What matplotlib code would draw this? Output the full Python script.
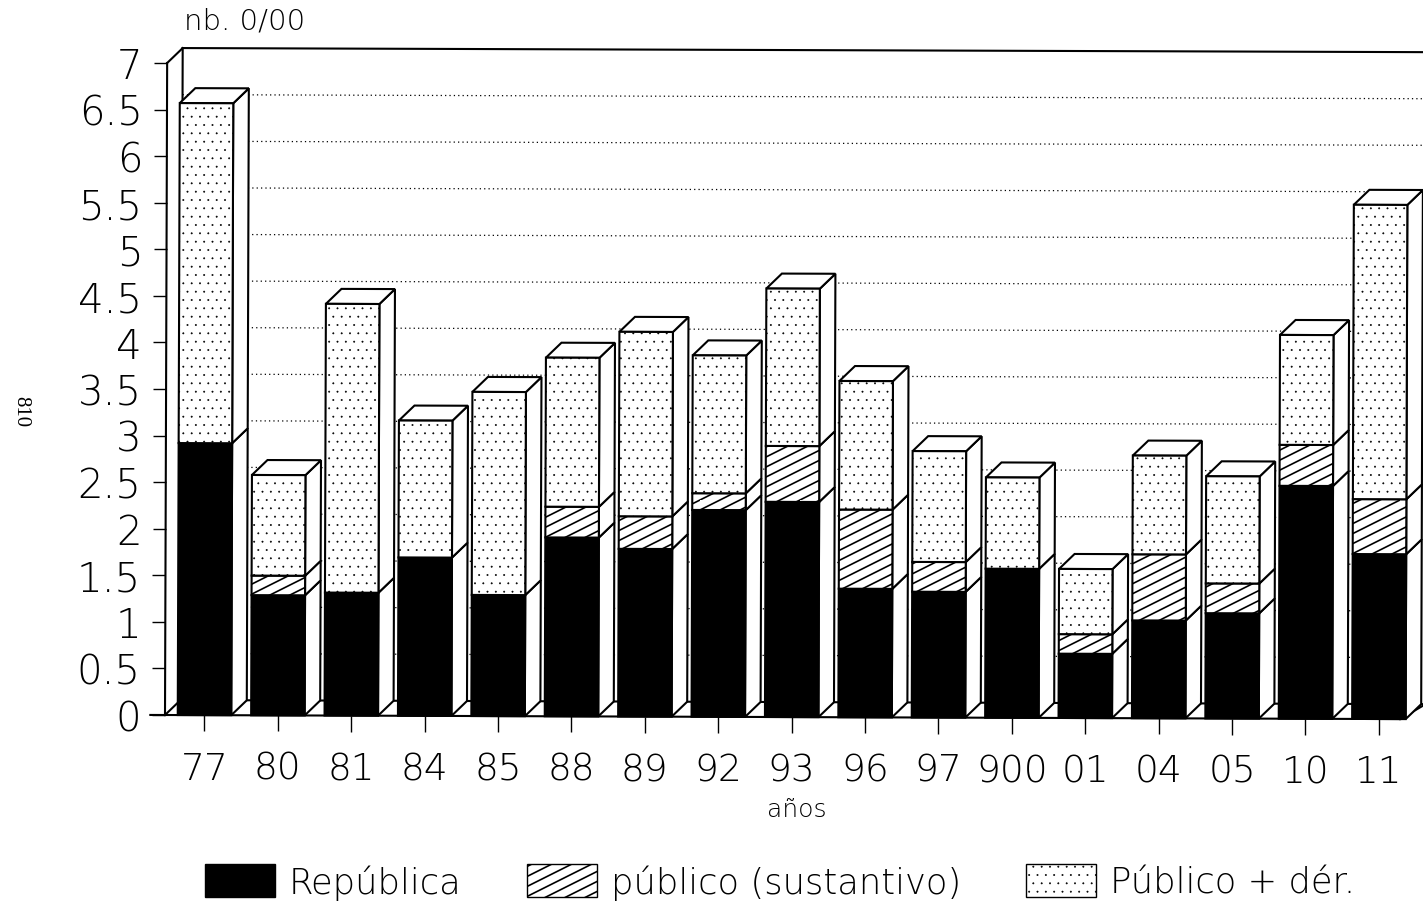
import matplotlib
matplotlib.use("Agg")
from matplotlib import hatch as mhatch
from matplotlib import pyplot as plt
from matplotlib.patches import Patch, Polygon
from matplotlib.path import Path
from matplotlib.transforms import Affine2D

# Chart values (stacked segments, per mille)
years = ["77", "80", "81", "84", "85", "88", "89", "92", "93", "96", "97", "900", "01", "04", "05", "10", "11"]
republica = [2.92, 1.29, 1.32, 1.70, 1.30, 1.92, 1.80, 2.22, 2.31, 1.38, 1.35, 1.60, 0.69, 1.05, 1.13, 2.50, 1.77]
sustantivo = [0.00, 0.21, 0.00, 0.00, 0.00, 0.33, 0.35, 0.18, 0.60, 0.85, 0.32, 0.00, 0.21, 0.71, 0.32, 0.44, 0.59]
derivados = [3.65, 1.08, 3.10, 1.47, 2.18, 1.60, 1.98, 1.48, 1.69, 1.38, 1.19, 0.98, 0.70, 1.06, 1.15, 1.18, 3.16]
y_ticks = [0, 0.5, 1, 1.5, 2, 2.5, 3, 3.5, 4, 4.5, 5, 5.5, 6, 6.5, 7]
y_labels = ["0", "0.5", "1", "1.5", "2", "2.5", "3", "3.5", "4", "4.5", "5", "5.5", "6", "6.5", "7"]

# Local constants
W, H = 1423, 904
X_STEP = 73.4   # px between bars
Y_STEP = 93.15  # px per unit
DEPTH_X = 15.5 / X_STEP
DEPTH_Y = 15 / Y_STEP
BAR_WIDTH = 53.5 / X_STEP
EDGE = 1.5
STRIPE_LW = 1.2
DOT_LW = 0.4


# Shallow stripes like the scanned original, the built-in "/" is always 45 degrees
class ShallowHatch(mhatch.HatchPatternBase):
    def __init__(self, hatch, density):
        self.num_lines = 15 if "/" in hatch else 0
        self.num_vertices = self.num_lines * 2

    def set_vertices_and_codes(self, vertices, codes):
        for k in range(self.num_lines):
            start = (k - 5) / 10
            vertices[2 * k] = (0, start)
            vertices[2 * k + 1] = (1, start + 0.5)
        codes[0::2] = Path.MOVETO
        codes[1::2] = Path.LINETO


mhatch._hatch_types[mhatch._hatch_types.index(mhatch.NorthEastHatch)] = ShallowHatch
mhatch.SmallFilledCircles.size = 0.08
plt.rcParams["font.family"] = "DejaVu Sans"
plt.rcParams["font.weight"] = 200

fig = plt.figure(figsize=(W / 100, H / 100), dpi=100)
ax = fig.add_axes([165 / W, (H - 716) / H, (W - 165) / W, 652 / H])
ax.set_xlim((165 - 204.5) / X_STEP, (W - 204.5) / X_STEP)
ax.set_ylim(0, 7)
for spine in ax.spines.values():
    spine.set_visible(False)

# The scan is a little crooked, turn the whole plot with it
tilt = Affine2D().rotate_around(165, H - 716, -0.0033)
data_tf = ax.transData + tilt
x_left, x_right = ax.get_xlim()


def poly(points, facecolor="white", zorder=3, lw=EDGE):
    ax.add_patch(Polygon(points, closed=True, facecolor=facecolor, edgecolor="black", linewidth=lw,
                         zorder=zorder, transform=data_tf, clip_on=False))


def line(xs, ys, **kwargs):
    kwargs.setdefault("color", "black")
    kwargs.setdefault("linewidth", EDGE)
    kwargs.setdefault("zorder", 2)
    ax.plot(xs, ys, transform=data_tf, clip_on=False, **kwargs)


# Walls and floor
back_x = x_left + DEPTH_X
line([x_left, x_left], [0, 7])
line([back_x, back_x], [DEPTH_Y, 7 + DEPTH_Y])
line([x_left, back_x], [7, 7 + DEPTH_Y])
line([x_left, back_x], [0, DEPTH_Y])
line([back_x, x_right], [7 + DEPTH_Y, 7 + DEPTH_Y])
line([back_x, x_right], [DEPTH_Y, DEPTH_Y])
line([x_left - 0.2, x_right - DEPTH_X - 0.1], [0, 0], zorder=5)
line([x_right - DEPTH_X - 0.1, x_right], [0, DEPTH_Y * 0.9])
for v in y_ticks[1:-1]:
    line([back_x, x_right], [v + DEPTH_Y, v + DEPTH_Y], linestyle=(0, (1, 2.5)), linewidth=0.9)

# Bars, one at a time so that the depth faces overlap properly
for i in range(len(years)):
    x0 = i - BAR_WIDTH / 2
    x1 = i + BAR_WIDTH / 2
    base = 0
    segments = [(republica[i], "black", None, STRIPE_LW), (sustantivo[i], "white", "/", STRIPE_LW),
                (derivados[i], "white", "..", DOT_LW)]
    for height, color, pattern, hatch_lw in segments:
        if height == 0:
            continue
        bar = ax.bar(i, height, BAR_WIDTH, bottom=base, color=color, edgecolor="black", linewidth=EDGE,
                     hatch=pattern, hatch_linewidth=hatch_lw, zorder=4)[0]
        bar.set_transform(data_tf)
        bar.set_clip_on(False)
        top = base + height
        poly([(x1, base), (x1 + DEPTH_X, base + DEPTH_Y), (x1 + DEPTH_X, top + DEPTH_Y), (x1, top)])
        base = top
    poly([(x0, base), (x0 + DEPTH_X, base + DEPTH_Y), (x1 + DEPTH_X, base + DEPTH_Y), (x1, base)])

# Axis ticks and labels
ax.set_xticks(range(len(years)), years)
ax.set_yticks(y_ticks, y_labels)
ax.tick_params(axis="x", length=11.5, width=1, pad=14, labelsize=27, bottom=True)
ax.tick_params(axis="y", length=9.5, width=1, pad=8, labelsize=29, left=True)
fig.canvas.draw()
for tick in ax.xaxis.get_major_ticks() + ax.yaxis.get_major_ticks():
    tick.tick1line.set_transform(tick.tick1line.get_transform() + tilt)
    tick.label1.set_transform(tick.label1.get_transform() + tilt)

fig.text(184 / W, 1 - 22 / H, "nb. 0/00", fontsize=21, ha="left", va="center")
fig.text(797 / W, 1 - 810 / H, "años", fontsize=18, ha="center", va="center")
fig.text(21 / W, 1 - 412 / H, "810", fontsize=15, family="Liberation Serif", weight="normal",
         rotation=270, ha="center", va="center")

handles = [Patch(facecolor="black", edgecolor="black", label="República"),
           Patch(facecolor="white", edgecolor="black", hatch="/", label="público (sustantivo)"),
           Patch(facecolor="white", edgecolor="black", hatch="..", label="Público + dér.")]
font_px = 25.5 * 100 / 72
legend = fig.legend(handles=handles, ncols=3, loc="center left", bbox_to_anchor=(205 / W, 1 - 883 / H),
                    frameon=False, fontsize=25.5, handlelength=70 / font_px, handleheight=37 / font_px,
                    handletextpad=14 / font_px, columnspacing=65 / font_px, borderpad=0, borderaxespad=0)
legend.get_patches()[1].set_hatch_linewidth(STRIPE_LW)
legend.get_patches()[2].set_hatch_linewidth(DOT_LW)

fig.savefig("out.png", dpi=100)
